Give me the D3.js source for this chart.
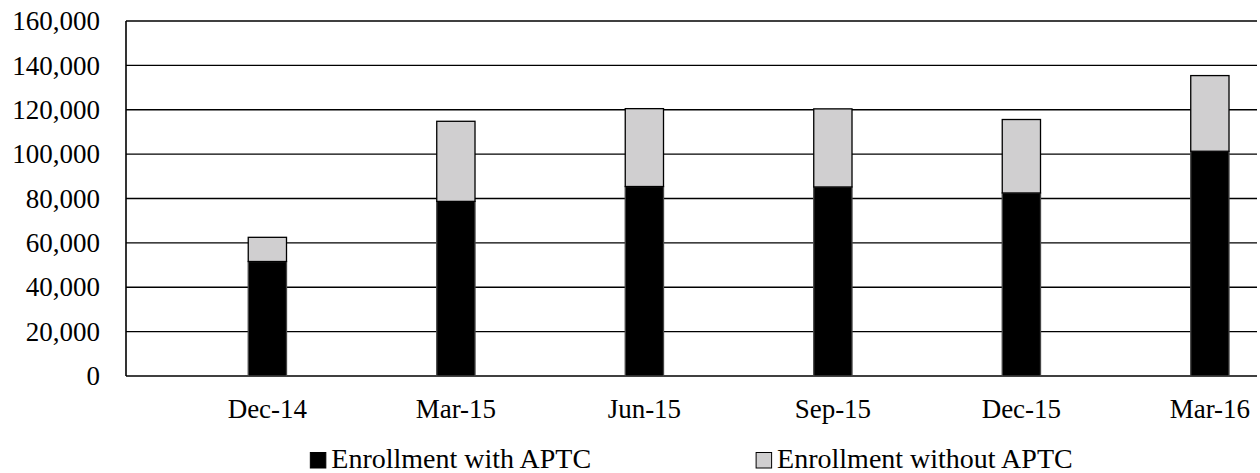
<!DOCTYPE html>
<html>
<head>
<meta charset="utf-8">
<script src="https://cdn.jsdelivr.net/npm/d3@7"></script>
<style>
  body { margin: 0; background: #fff; }
  svg text { font-family: "Liberation Serif", "Times New Roman", serif; fill: #000; }
</style>
</head>
<body>
<svg id="chart" width="1260" height="473"></svg>
<script>
    "use strict";
    //============================================================
    // Data
    //------------------------------------------------------------

    var categories = ['Dec-14', 'Mar-15', 'Jun-15', 'Sep-15', 'Dec-15', 'Mar-16'];
    var withAptc = [51600, 78700, 85400, 85200, 82500, 101300];
    var withoutAptc = [10900, 36100, 35100, 35200, 33100, 34100];
    var seriesNames = ['Enrollment with APTC', 'Enrollment without APTC'];
    var yTicks = [0, 20000, 40000, 60000, 80000, 100000, 120000, 140000, 160000];

    //============================================================

    var margin = {top: 21, right: 3, bottom: 97, left: 126}
      , width = 1260
      , height = 473
      , innerW = width - margin.left - margin.right
      , innerH = height - margin.top - margin.bottom
      , colors = ['#000000', '#d0cfd0']
      ;

    var svg = d3.select('#chart');
    var g = svg.append('g').attr('transform', 'translate(' + margin.left + ',' + margin.top + ')');

    var x = d3.scaleBand().domain(categories).range([0, innerW]).padding(0);
    var y = d3.scaleLinear().domain([0, 160000]).range([innerH, 0]);

    // gridlines
    g.selectAll('.grid').data(yTicks).enter().append('line')
      .attr('class', 'grid')
      .attr('x1', 0).attr('x2', innerW)
      .attr('y1', function (d) { return y(d); })
      .attr('y2', function (d) { return y(d); })
      .attr('stroke', '#000')
      .attr('stroke-width', 1.4);

    // y axis line + labels
    g.append('line')
      .attr('x1', 0).attr('x2', 0)
      .attr('y1', 0).attr('y2', innerH)
      .attr('stroke', '#000').attr('stroke-width', 1.6);

    var fmt = d3.format(',');
    g.selectAll('.ylab').data(yTicks).enter().append('text')
      .attr('class', 'ylab')
      .attr('x', -26)
      .attr('y', function (d) { return y(d); })
      .attr('dy', '0.34em')
      .attr('text-anchor', 'end')
      .style('font-size', '27px')
      .text(function (d) { return fmt(d); });

    // stacked data
    var rows = categories.map(function (c, i) {
        return {cat: c, a: withAptc[i], b: withoutAptc[i]};
    });
    var stack = d3.stack().keys(['a', 'b'])(rows);

    // bars sit at 3/4 of each band (excel cluster offset)
    var barW = x.bandwidth() * 0.203;
    function barX(d) {
        return x(d.data.cat) + x.bandwidth() * 0.75 - barW / 2;
    }

    var layers = g.selectAll('.layer').data(stack).enter().append('g')
      .attr('class', 'layer')
      .attr('fill', function (d, i) { return colors[i]; });

    layers.selectAll('rect').data(function (d) { return d; }).enter().append('rect')
      .attr('x', barX)
      .attr('y', function (d) { return y(d[1]); })
      .attr('width', barW)
      .attr('height', function (d) { return y(d[0]) - y(d[1]); })
      .attr('stroke', function () {
          return d3.select(this.parentNode).datum().key === 'a' ? '#444' : '#000';
      })
      .attr('stroke-width', 1.3);

    // x labels
    g.selectAll('.xlab').data(categories).enter().append('text')
      .attr('class', 'xlab')
      .attr('x', function (d) { return x(d) + x.bandwidth() * 0.75; })
      .attr('y', innerH + 42)
      .attr('text-anchor', 'middle')
      .style('font-size', '27px')
      .text(function (d) { return d; });

    //------------------------------------------------------------
    // legend, centered under the plot

    var legend = svg.append('g').attr('class', 'legend');
    var items = legend.selectAll('.item').data(seriesNames).enter().append('g').attr('class', 'item');
    items.append('rect')
      .attr('x', 0).attr('y', -15.5)
      .attr('width', 15.5).attr('height', 15.5)
      .attr('fill', function (d, i) { return colors[i]; })
      .attr('stroke', '#000').attr('stroke-width', 1);
    items.append('text')
      .attr('x', 21)
      .attr('y', 0)
      .style('font-size', '28px')
      .text(function (d) { return d; });

    var gap = 165, xpos = 0, widths = [];
    items.each(function () {
        widths.push(21 + d3.select(this).select('text').node().getComputedTextLength());
    });
    var total = widths[0] + gap + widths[1];
    var start = margin.left + innerW / 2 - total / 2;
    items.attr('transform', function (d, i) {
        var px = start + (i === 0 ? 0 : widths[0] + gap);
        return 'translate(' + px + ',468)';
    });
</script>
</body>
</html>
